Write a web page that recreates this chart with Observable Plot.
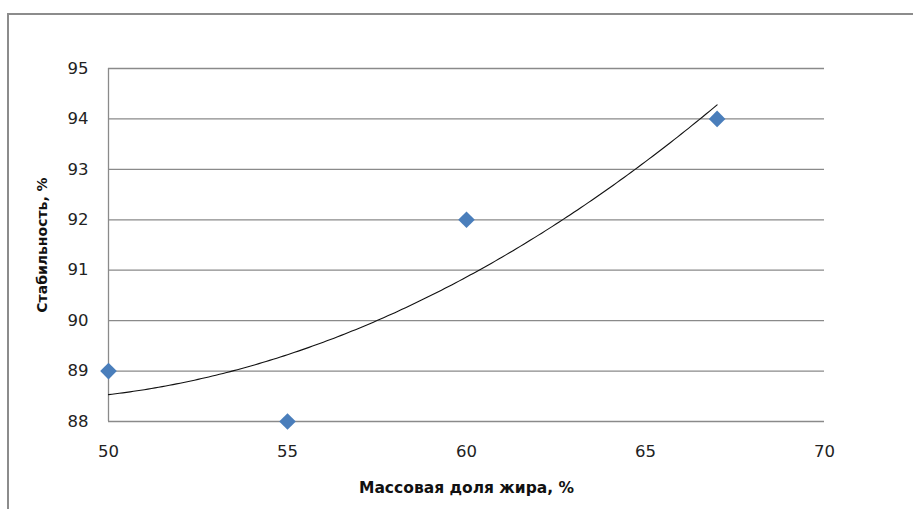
<!DOCTYPE html>
<html>
<head>
<meta charset="utf-8">
<script src="https://cdn.jsdelivr.net/npm/d3@7"></script>
<script src="https://cdn.jsdelivr.net/npm/@observablehq/plot@0.6"></script>
<style>
  html, body { margin: 0; padding: 0; background: #fff; }
  #wrap { position: relative; width: 913px; height: 509px; overflow: hidden; }
  #frame { position: absolute; left: 7px; top: 13px; right: -5px; bottom: -5px;
           border-left: 2px solid #8c8c8c; border-top: 2px solid #8c8c8c; pointer-events: none; }
</style>
</head>
<body>
<div id="wrap"><div id="frame"></div></div>
<script>
// Data
const fatShare = [50, 55, 60, 67];          // Массовая доля жира, %
const stability = [89, 88, 92, 94];         // Стабильность, %
const xTicks = [50, 55, 60, 65, 70];
const yTicks = [88, 89, 90, 91, 92, 93, 94, 95];
const xTitle = "Массовая доля жира, %";
const yTitle = "Стабильность, %";

const points = fatShare.map((x, i) => ({x, y: stability[i]}));

// Polynomial (2nd order) trendline fitted to the data by least squares
function quadFit(xs, ys) {
  const n = xs.length;
  let S = [0,0,0,0,0], T = [0,0,0];
  for (let i = 0; i < n; i++) {
    const x = xs[i], y = ys[i];
    for (let k = 0; k <= 4; k++) S[k] += Math.pow(x, k);
    for (let k = 0; k <= 2; k++) T[k] += Math.pow(x, k) * y;
  }
  const A = [[S[0], S[1], S[2], T[0]], [S[1], S[2], S[3], T[1]], [S[2], S[3], S[4], T[2]]];
  for (let c = 0; c < 3; c++) {
    let p = c; for (let r = c + 1; r < 3; r++) if (Math.abs(A[r][c]) > Math.abs(A[p][c])) p = r;
    [A[c], A[p]] = [A[p], A[c]];
    for (let r = 0; r < 3; r++) if (r !== c) {
      const f = A[r][c] / A[c][c];
      for (let k = c; k < 4; k++) A[r][k] -= f * A[c][k];
    }
  }
  return [A[0][3] / A[0][0], A[1][3] / A[1][1], A[2][3] / A[2][2]];
}
const [a0, a1, a2] = quadFit(fatShare, stability);
const trend = d3.range(d3.min(fatShare), d3.max(fatShare) + 0.001, 0.1)
  .map(x => ({x, y: a0 + a1 * x + a2 * x * x}));

const chart = Plot.plot({
  width: 913,
  height: 509,
  marginLeft: 108,
  marginRight: 89,
  marginTop: 68,
  marginBottom: 88,
  style: { fontFamily: "DejaVu Sans, sans-serif", fontSize: "16.5px", color: "#222", background: "transparent" },
  x: { domain: [50, 70], ticks: xTicks, tickSize: 0, tickPadding: 24, tickFormat: "d", label: null },
  y: { domain: [88, 95], ticks: yTicks, tickSize: 0, tickPadding: 20, tickFormat: "d", label: null },
  marks: [
    Plot.ruleY(yTicks, { stroke: "#8a8a8a", strokeWidth: 1.3 }),
    Plot.ruleX([50], { stroke: "#8a8a8a", strokeWidth: 1.3 }),
    Plot.line(trend, { x: "x", y: "y", stroke: "#111", strokeWidth: 1.1 }),
    Plot.dot(points, { x: "x", y: "y", symbol: "diamond2", r: 7.5, fill: "#4a7ebb", stroke: "none" }),
    Plot.text([xTitle], { frameAnchor: "bottom", dy: 71, fontWeight: "bold", fontSize: 15.5, fill: "#111" }),
    Plot.text([yTitle], { frameAnchor: "left", dx: -66, rotate: -90, textAnchor: "middle", fontWeight: "bold", fontSize: 14, fill: "#111" })
  ]
});
document.getElementById("wrap").prepend(chart);
</script>
</body>
</html>
